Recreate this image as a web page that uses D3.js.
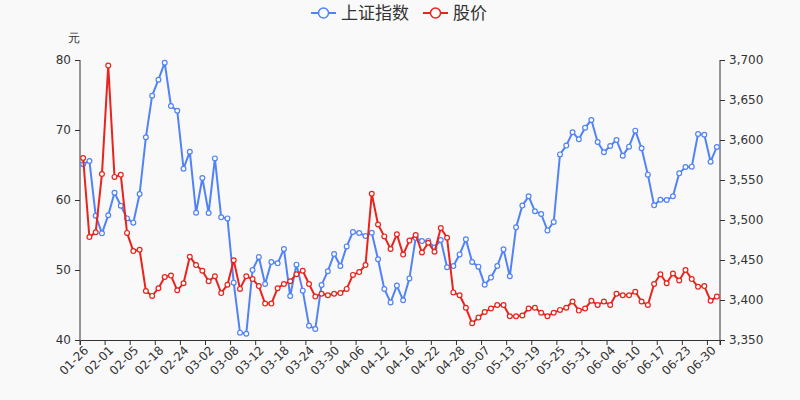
<!DOCTYPE html>
<html><head><meta charset="utf-8">
<script src="https://cdn.jsdelivr.net/npm/d3@7/dist/d3.min.js"></script>
<style>html,body{margin:0;padding:0;background:#f9f9f9;}svg{display:block;font-family:"DejaVu Sans",sans-serif;}</style>
</head><body><svg id="c" width="800" height="400"></svg>
<script>
const dates = ["01-26","01-27","01-28","01-29","02-01","02-02","02-03","02-04","02-05","02-08","02-09","02-10","02-18","02-19","02-22","02-23","02-24","02-25","02-26","03-01","03-02","03-03","03-04","03-05","03-08","03-09","03-10","03-11","03-12","03-15","03-16","03-17","03-18","03-19","03-22","03-23","03-24","03-25","03-26","03-29","03-30","03-31","04-01","04-02","04-06","04-07","04-08","04-09","04-12","04-13","04-14","04-15","04-16","04-19","04-20","04-21","04-22","04-23","04-26","04-27","04-28","04-29","04-30","05-06","05-07","05-10","05-11","05-12","05-13","05-14","05-17","05-18","05-19","05-20","05-21","05-24","05-25","05-26","05-27","05-28","05-31","06-01","06-02","06-03","06-04","06-07","06-08","06-09","06-10","06-11","06-15","06-16","06-17","06-18","06-21","06-22","06-23","06-24","06-25","06-28","06-30","07-01"];
const indexValues = [3569.6,3573.8,3505.4,3483.3,3506,3534,3517.9,3502,3496.7,3532.5,3603.4,3655.4,3675.4,3696.6,3642.5,3636.6,3564.1,3585.4,3509.1,3552.5,3508.8,3577,3503.3,3502,3421.7,3359.2,3357.9,3437.5,3453.8,3420,3447.5,3445.8,3463.8,3405,3444.2,3411.7,3367.9,3363.8,3418.8,3436,3457.5,3442.5,3467,3485,3483.8,3480,3484,3451,3413.8,3397,3418,3399.6,3427,3477.5,3473.6,3473.9,3465.5,3475,3441,3442.5,3457,3475.8,3447.5,3441.7,3419,3428,3442.5,3463.3,3429.6,3490.8,3518,3529.6,3511,3507.5,3487,3497.5,3582,3593,3609.6,3601,3615.4,3625,3597.5,3584.6,3592.5,3600,3580.4,3591.7,3611.7,3589.6,3556.7,3518.3,3525.4,3525,3529.6,3558.3,3566.3,3566.7,3607.5,3606.6,3572.9,3591.3];
const priceValues = [66.0,54.7,55.4,63.7,79.2,63.3,63.6,55.3,52.7,52.9,47.0,46.3,47.4,49.0,49.2,47.1,48.1,51.9,50.7,49.9,48.4,49.1,46.7,47.9,51.4,47.3,49.1,48.7,47.7,45.2,45.2,47.4,48.0,48.4,49.4,49.9,48.0,46.2,46.6,46.4,46.6,46.7,47.3,49.3,49.7,50.7,60.9,56.5,54.8,53.0,55.1,52.2,54.2,55.0,52.5,53.9,52.6,56.0,54.6,46.8,46.4,44.6,42.4,43.2,44.0,44.5,45.0,45.0,43.4,43.4,43.5,44.5,44.6,43.9,43.4,43.9,44.3,44.6,45.5,44.2,44.5,45.6,45.0,45.5,45.0,46.6,46.4,46.4,46.9,45.5,45.0,48.0,49.4,48.1,49.5,48.5,50.0,48.7,47.6,47.7,45.6,46.2];
const leftTicks = [40,50,60,70,80];
const rightTicks = [3350,3400,3450,3500,3550,3600,3650,3700];
const seriesNames = ["上证指数","股价"];

const W=800,H=400,L=80,R=720,T=60,B=340;
const blue="#5183f7", red="#e8241c", axisColor="#333";
const svg=d3.select("#c");
svg.append("rect").attr("width",W).attr("height",H).attr("fill","#f9f9f9");

const x=d3.scaleBand().domain(dates).range([L,R]).padding(0);
const yL=d3.scaleLinear().domain([40,80]).range([B,T]);
const yR=d3.scaleLinear().domain([3350,3700]).range([B,T]);
const cx=d=>x(d)+x.bandwidth()/2;

// x axis
const xa=svg.append("g").attr("transform",`translate(0,${B})`)
  .call(d3.axisBottom(x).tickValues(dates.filter((d,i)=>i%4===0)).tickSize(5).tickPadding(4));
xa.selectAll(".tick line").attr("transform",`translate(${-x.bandwidth()/2},0)`);
xa.selectAll(".tick text").attr("transform","rotate(-45)").attr("text-anchor","end")
  .attr("dx","-0.3em").attr("dy","0.5em").attr("x",0).attr("y",6);
xa.append("line").attr("x1",R).attr("x2",R).attr("y1",0).attr("y2",5).attr("stroke",axisColor);

// y axes
const la=svg.append("g").attr("transform",`translate(${L},0)`)
  .call(d3.axisLeft(yL).tickValues(leftTicks).tickSize(5).tickPadding(4).tickFormat(d3.format("d")));
const ra=svg.append("g").attr("transform",`translate(${R},0)`)
  .call(d3.axisRight(yR).tickValues(rightTicks).tickSize(5).tickPadding(4).tickFormat(d3.format(",")));
[xa,la,ra].forEach(g=>{
  g.select(".domain").attr("stroke",axisColor);
  g.selectAll(".tick line").attr("stroke",axisColor);
  g.selectAll(".tick text").attr("fill",axisColor).attr("font-size",12).attr("font-family","DejaVu Sans");
});
la.select(".domain").attr("d",`M0,${B}V${T}`);
ra.select(".domain").attr("d",`M0,${B}V${T}`);
svg.append("text").attr("x",L-6).attr("y",T-18).attr("text-anchor","middle").attr("font-size",12)
  .attr("fill",axisColor).text("元");

function drawSeries(vals,y,color){
  const g=svg.append("g");
  g.append("path").datum(vals).attr("fill","none").attr("stroke",color).attr("stroke-width",2)
    .attr("stroke-linejoin","round")
    .attr("d",d3.line().x((d,i)=>cx(dates[i])).y(d=>y(d)));
  g.selectAll("circle").data(vals).enter().append("circle")
    .attr("cx",(d,i)=>cx(dates[i])).attr("cy",d=>y(d)).attr("r",2.4)
    .attr("fill","#fff").attr("stroke",color).attr("stroke-width",1.2);
}
drawSeries(indexValues,yR,blue);
drawSeries(priceValues,yL,red);

// legend
const lg=svg.append("g").attr("font-family","'Noto Sans CJK SC',sans-serif").attr("font-size",17);
const items=[{name:seriesNames[0],color:blue,x:311},{name:seriesNames[1],color:red,x:423}];
items.forEach(it=>{
  lg.append("line").attr("x1",it.x).attr("x2",it.x+25).attr("y1",13).attr("y2",13)
    .attr("stroke",it.color).attr("stroke-width",2);
  lg.append("circle").attr("cx",it.x+12.5).attr("cy",13).attr("r",5).attr("fill","#fff")
    .attr("stroke",it.color).attr("stroke-width",1.5);
  lg.append("text").attr("x",it.x+30).attr("y",13).attr("dy","0.35em").attr("fill","#333").text(it.name);
});
</script></body></html>
